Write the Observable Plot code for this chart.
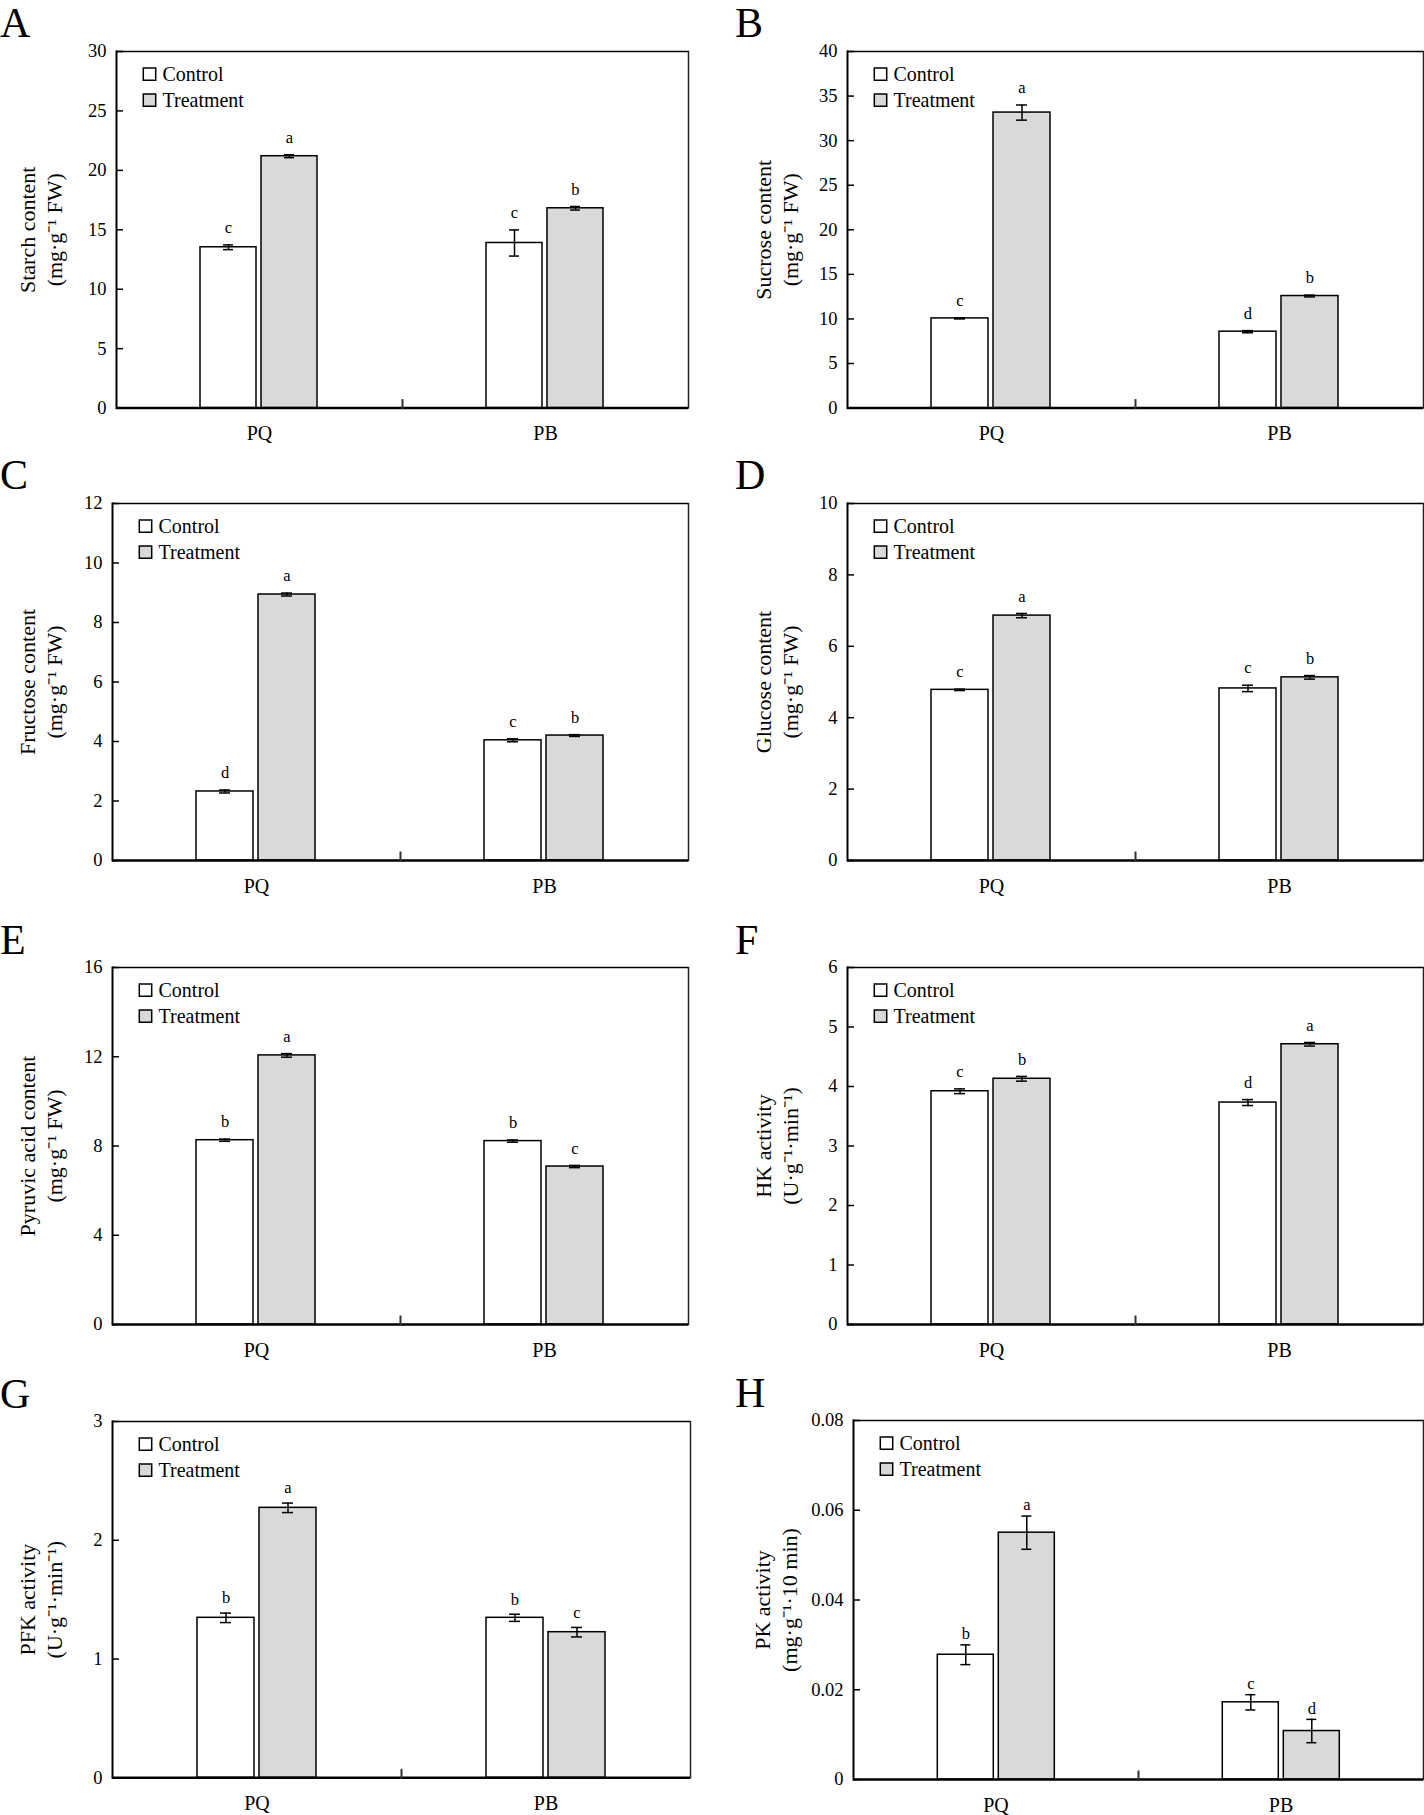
<!DOCTYPE html>
<html>
<head>
<meta charset="utf-8">
<script src="https://cdn.jsdelivr.net/npm/d3@7"></script>
<script src="https://cdn.jsdelivr.net/npm/@observablehq/plot@0.6"></script>
<style>
html, body { margin: 0; padding: 0; background: #fff; overflow: hidden; }
#fig { position: relative; width: 1424px; height: 1815px; font-family: "Liberation Serif", "Times New Roman", serif; color: #000; }
.panel { position: absolute; }
.letter { position: absolute; font-size: 42px; line-height: 1; font-family: "Liberation Serif", serif; }
</style>
</head>
<body>
<div id="fig"></div>
<script>
// ---------- data ----------
const groups = ["PQ", "PB"];
const series = ["Control", "Treatment"];
const seriesColors = ["#ffffff", "#d9d9d9"];

// order of values: PQ-Control, PQ-Treatment, PB-Control, PB-Treatment
const starchMean = [13.53, 21.19, 13.89, 16.81];
const starchSE = [0.2, 0.12, 1.1, 0.15];
const starchLetters = ["c", "a", "c", "b"];
const starchTicks = [0, 5, 10, 15, 20, 25, 30];

const sucroseMean = [10.06, 33.15, 8.57, 12.57];
const sucroseSE = [0.06, 0.85, 0.12, 0.1];
const sucroseLetters = ["c", "a", "d", "b"];
const sucroseTicks = [0, 5, 10, 15, 20, 25, 30, 35, 40];

const fructoseMean = [2.32, 8.94, 4.04, 4.2];
const fructoseSE = [0.05, 0.05, 0.05, 0.03];
const fructoseLetters = ["d", "a", "c", "b"];
const fructoseTicks = [0, 2, 4, 6, 8, 10, 12];

const glucoseMean = [4.78, 6.86, 4.82, 5.13];
const glucoseSE = [0.02, 0.06, 0.09, 0.05];
const glucoseLetters = ["c", "a", "c", "b"];
const glucoseTicks = [0, 2, 4, 6, 8, 10];

const pyruvicMean = [8.26, 12.06, 8.22, 7.08];
const pyruvicSE = [0.05, 0.08, 0.05, 0.05];
const pyruvicLetters = ["b", "a", "b", "c"];
const pyruvicTicks = [0, 4, 8, 12, 16];

const hkMean = [3.92, 4.13, 3.73, 4.71];
const hkSE = [0.04, 0.04, 0.05, 0.03];
const hkLetters = ["c", "b", "d", "a"];
const hkTicks = [0, 1, 2, 3, 4, 5, 6];

const pfkMean = [1.347, 2.273, 1.347, 1.226];
const pfkSE = [0.04, 0.04, 0.03, 0.04];
const pfkLetters = ["b", "a", "b", "c"];
const pfkTicks = [0, 1, 2, 3];

const pkMean = [0.0278, 0.055, 0.0172, 0.0108];
const pkSE = [0.0022, 0.0037, 0.0017, 0.0026];
const pkLetters = ["b", "a", "c", "d"];
const pkTicks = [0, 0.02, 0.04, 0.06, 0.08];

const panelIds = ["A", "B", "C", "D", "E", "F", "G", "H"];
const yLabels = [
  "Starch content\n(mg·g⁻¹ FW)",
  "Sucrose content\n(mg·g⁻¹ FW)",
  "Fructose content\n(mg·g⁻¹ FW)",
  "Glucose content\n(mg·g⁻¹ FW)",
  "Pyruvic acid content\n(mg·g⁻¹ FW)",
  "HK activity\n(U·g⁻¹·min⁻¹)",
  "PFK activity\n(U·g⁻¹·min⁻¹)",
  "PK activity\n(mg·g⁻¹·10 min)"
];
const means = [starchMean, sucroseMean, fructoseMean, glucoseMean, pyruvicMean, hkMean, pfkMean, pkMean];
const ses = [starchSE, sucroseSE, fructoseSE, glucoseSE, pyruvicSE, hkSE, pfkSE, pkSE];
const letters = [starchLetters, sucroseLetters, fructoseLetters, glucoseLetters, pyruvicLetters, hkLetters, pfkLetters, pkLetters];
const tickSets = [starchTicks, sucroseTicks, fructoseTicks, glucoseTicks, pyruvicTicks, hkTicks, pfkTicks, pkTicks];

// ---------- layout (pixel frame of each panel in the page) ----------
const layout = [
  {L: 115, T: 50.7, R: 688.3, B: 407.3, letterDy: -17},
  {L: 846, T: 50.7, R: 1423, B: 407.3, letterDy: -17},
  {L: 111, T: 502.7, R: 688.6, B: 859.7, letterDy: -17},
  {L: 846, T: 502.7, R: 1423, B: 859.7, letterDy: -17},
  {L: 111, T: 967.3, R: 688.6, B: 1324.3, letterDy: -17},
  {L: 846, T: 967.3, R: 1423, B: 1324.3, letterDy: -17},
  {L: 111, T: 1421, R: 690, B: 1777.3, letterDy: -15},
  {L: 852.7, T: 1420, R: 1423, B: 1779, letterDy: -11}
];
const colWidth = 712;
const mt = 40, mb = 38;
const labelCenterX = [38.8, 774.5];
const letterX = [0, 735];

const fig = document.getElementById("fig");

panelIds.forEach((id, p) => {
  const col = p % 2;
  const lay = layout[p];
  const innerH = lay.B - lay.T;
  const ml = lay.L - col * colWidth;
  const mr = (col + 1) * colWidth - lay.R;
  const ticks = tickSets[p];
  const ymax = ticks[ticks.length - 1];

  const rows = [];
  groups.forEach((g, gi) => series.forEach((s, si) => {
    const k = gi * 2 + si;
    rows.push({group: g, series: s, mean: means[p][k], se: ses[p][k], letter: letters[p][k]});
  }));

  const legendMarks = series.flatMap((s, i) => [
    Plot.dot([s], {frameAnchor: "top-left", dx: 33, dy: 22.6 + 26 * i, symbol: "square", r: 7,
      fill: d => d, stroke: "black", strokeWidth: 1.5, facetAnchor: "left"}),
    Plot.text([s], {frameAnchor: "top-left", dx: 46, dy: 22.6 + 26 * i, text: d => d,
      textAnchor: "start", lineAnchor: "middle", fontSize: 20, fill: "black", facetAnchor: "left"})
  ]);

  const chart = Plot.plot({
    width: colWidth,
    height: mt + innerH + mb,
    marginLeft: ml, marginRight: mr, marginTop: mt, marginBottom: mb,
    style: {fontFamily: "'Liberation Serif', 'Times New Roman', serif", fontSize: "18.5px", color: "black", background: "transparent", overflow: "visible"},
    fx: {domain: groups, padding: 0, axis: null, label: null},
    x: {domain: series, paddingInner: 0.08, paddingOuter: 1.35, axis: null},
    y: {domain: [0, ymax], axis: null},
    color: {domain: series, range: seriesColors},
    marks: [
      Plot.barY(rows, {fx: "group", x: "series", y: "mean", fill: "series", stroke: "black", strokeWidth: 1.5}),
      Plot.ruleX(rows, {fx: "group", x: "series", y1: d => d.mean - d.se, y2: d => d.mean + d.se, stroke: "black", strokeWidth: 1.5}),
      Plot.tickY(rows, {fx: "group", x: "series", y: d => d.mean + d.se, insetLeft: 23, insetRight: 23, stroke: "black", strokeWidth: 1.5}),
      Plot.tickY(rows, {fx: "group", x: "series", y: d => d.mean - d.se, insetLeft: 23, insetRight: 23, stroke: "black", strokeWidth: 1.5}),
      Plot.text(rows, {fx: "group", x: "series", y: d => d.mean + d.se, text: "letter", dy: lay.letterDy, fontSize: 16.5, fill: "black"}),
      Plot.ruleY([0], {stroke: "black", strokeWidth: 2.5}),
      Plot.ruleY([ymax], {stroke: "black", strokeWidth: 1.5}),
      Plot.frame({anchor: "left", facetAnchor: "left", stroke: "black", strokeWidth: 2}),
      Plot.frame({anchor: "right", facetAnchor: "right", stroke: "#222", strokeWidth: 1.5}),
      Plot.frame({anchor: "left", facetAnchor: "right", insetTop: innerH - 8, stroke: "#333", strokeWidth: 2}),
      Plot.axisY(ticks, {anchor: "left", tickSize: -7, tickPadding: 17, tickFormat: d => String(d), label: null, strokeWidth: 1.5}),
      Plot.axisFx({anchor: "bottom", tickSize: 0, tickPadding: 18, label: null, fontSize: 20}),
      Plot.text([yLabels[p]], {frameAnchor: "left", text: d => d, rotate: -90, dx: labelCenterX[col] - lay.L,
        textAnchor: "middle", lineAnchor: "middle", fontSize: 22, lineHeight: 1.23, fill: "black", facetAnchor: "left"}),
      ...legendMarks
    ]
  });

  const div = document.createElement("div");
  div.className = "panel";
  div.style.left = (col * colWidth) + "px";
  div.style.top = (lay.T - mt) + "px";
  div.appendChild(chart);
  fig.appendChild(div);

  const letter = document.createElement("div");
  letter.className = "letter";
  letter.textContent = id;
  letter.style.left = letterX[col] + "px";
  letter.style.top = (lay.T - 48.5) + "px";
  fig.appendChild(letter);
});
</script>
</body>
</html>
